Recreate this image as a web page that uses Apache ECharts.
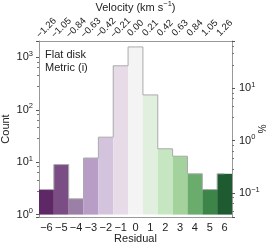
<!DOCTYPE html>
<html><head><meta charset="utf-8">
<script src="https://cdn.jsdelivr.net/npm/echarts@6/dist/echarts.min.js"></script>
<style>html,body{margin:0;padding:0;background:#fff}#c{width:274px;height:249px}</style>
</head><body><div id="c"></div>
<script>
const residuals = ['−6','−5','−4','−3','−2','−1','0','1','2','3','4','5','6'];
const velocities = ['−1.26','−1.05','−0.84','−0.63','−0.42','−0.21','0.00','0.21','0.42','0.63','0.84','1.05','1.26'];
const counts = [3, 9, 2, 12, 30, 690, 1580, 192, 18, 13, 6, 3, 6];
const barColors = ['#5e2866','#7b4d85','#9c7fa7','#b89ec6','#d4c3dd','#e8dbe8','#f4f4f4','#e1efdf','#c6e6c1','#a3d29c','#6aac6c','#3d8449','#1f5b30'];

const total = counts.reduce((a,b)=>a+b,0);
const yMin = 0.9, yMax = 2050;
const font = 'Liberation Sans, Arial, sans-serif';
const sup = {
  b:{fontSize:11, fontFamily:font, color:'#222'},
  s:{fontSize:7.5, fontFamily:font, color:'#222', verticalAlign:'top', padding:[0,0,7,0]}
};
function powFmt(v){
  const e = Math.round(Math.log10(v));
  return '{b|10}{s|' + (e<0 ? '−'+(-e) : e) + '}';
}
const chart = echarts.init(document.getElementById('c'), null, {renderer:'canvas'});
chart.setOption({
  animation:false,
  backgroundColor:'#fff',
  grid:{left:39, right:42, top:41, bottom:32, outerBoundsMode:'none', containLabel:false},
  xAxis:[{
    type:'category', data:residuals, position:'bottom',
    axisLine:{lineStyle:{color:'#999', width:1}},
    axisTick:{alignWithLabel:true, length:3, interval:0, lineStyle:{color:'#555'}},
    axisLabel:{fontFamily:font, fontSize:11, color:'#222', margin:5, interval:0},
    name:'Residual', nameLocation:'middle', nameGap:16, nameMoveOverlap:false,
    nameTextStyle:{fontFamily:font, fontSize:11, color:'#222'}
  },{
    type:'category', data:velocities, position:'top',
    axisLine:{lineStyle:{color:'#999', width:1}},
    axisTick:{alignWithLabel:true, length:3, interval:0, lineStyle:{color:'#555'}},
    axisLabel:{fontFamily:font, fontSize:9.5, color:'#222', rotate:-45, margin:13, interval:0,
      align:'center', verticalAlign:'middle', hideOverlap:false},
    name:'Velocity (km s{s|−1})', nameLocation:'middle', nameGap:26, nameMoveOverlap:false,
    nameTextStyle:{fontFamily:font, fontSize:11, color:'#222',
      rich:{s:{fontSize:7.5, fontFamily:font, color:'#222', verticalAlign:'top', padding:[0,0,7,0]}}}
  }],
  yAxis:[{
    type:'log', logBase:10, min:yMin, max:yMax, position:'left',
    axisLine:{show:true, lineStyle:{color:'#999', width:1}},
    axisTick:{show:true, length:3, lineStyle:{color:'#555'}},
    minorTick:{show:true, splitNumber:5, length:2, lineStyle:{color:'#777'}},
    splitLine:{show:false},
    axisLabel:{formatter:powFmt, rich:sup, margin:6, showMinLabel:false, showMaxLabel:false},
    name:'Count', nameLocation:'middle', nameGap:28, nameRotate:90, nameMoveOverlap:false,
    nameTextStyle:{fontFamily:font, fontSize:11, color:'#222'}
  },{
    type:'log', logBase:10, min:yMin/total*100, max:yMax/total*100, position:'right',
    axisLine:{show:true, lineStyle:{color:'#999', width:1}},
    axisTick:{show:true, length:3, lineStyle:{color:'#555'}},
    minorTick:{show:true, splitNumber:5, length:2, lineStyle:{color:'#777'}},
    splitLine:{show:false},
    axisLabel:{formatter:powFmt, rich:sup, margin:7, showMinLabel:false, showMaxLabel:false},
    name:'%', nameLocation:'middle', nameGap:24, nameRotate:-90, nameMoveOverlap:false,
    nameTextStyle:{fontFamily:font, fontSize:10, color:'#222'}
  }],
  series:[{
    type:'bar', xAxisIndex:0, yAxisIndex:0, barCategoryGap:'0%',
    data:counts.map((v,i)=>({value:v, itemStyle:{color:barColors[i]}})),
    silent:true
  },{
    type:'line', xAxisIndex:0, yAxisIndex:0, step:'middle', data:counts,
    symbol:'none', lineStyle:{color:'#aaa', width:1}, silent:true
  }],
  graphic:[{
    type:'text', left:45, top:48,
    style:{text:'Flat disk\nMetric (i)', fontFamily:font, fontSize:11, fill:'#222', lineHeight:13.5}
  }]
});
</script></body></html>
